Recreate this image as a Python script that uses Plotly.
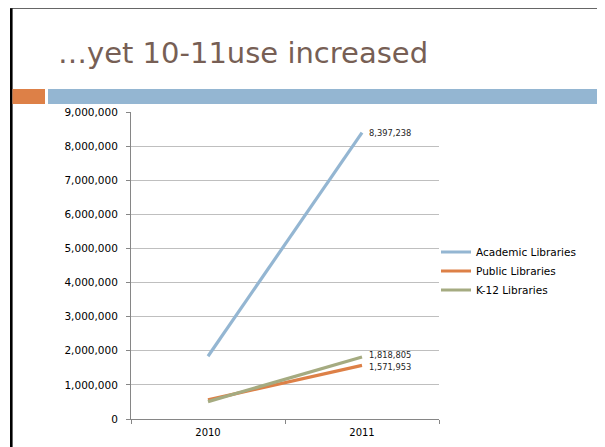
import plotly.graph_objects as go

years = ["2010", "2011"]
academic = [1840000, 8397238]
public = [560000, 1571953]
k12 = [510000, 1818805]
series_names = ["Academic Libraries", "Public Libraries", "K-12 Libraries"]
y_ticks = [0, 1000000, 2000000, 3000000, 4000000, 5000000, 6000000, 7000000, 8000000, 9000000]
y_tick_labels = ["0", "1,000,000", "2,000,000", "3,000,000", "4,000,000", "5,000,000",
                 "6,000,000", "7,000,000", "8,000,000", "9,000,000"]
title_text = "…yet 10-11use increased"

colors = ["#94B6D2", "#DD8047", "#A5AB81"]
label_yshift = [0, -1.5, 1.5]
FONT = "DejaVu Sans"

W, H = 605, 447
OFF = 8  # page body margin
# target plot area in screenshot pixels
PX0, PX1, PY0, PY1 = 131, 439, 112, 419
L = PX0 - OFF
R = W - (PX1 - OFF)
T = PY0 - OFF
B = H - (PY1 - OFF)
PW, PH = W - L - R, H - T - B

def px(x):
    return (x - PX0) / PW

def py(y):
    return (PY1 - y) / PH

fig = go.Figure()
annotations = []
last_idx = len(years) - 1
for name, vals, col, ys in zip(series_names, [academic, public, k12], colors, label_yshift):
    fig.add_trace(go.Scatter(
        x=years, y=vals, name=name, mode="lines",
        line=dict(color=col, width=3.2),
    ))
    annotations.append(dict(
        x=last_idx, y=vals[-1], xref="x", yref="y", text=f"{vals[-1]:,}",
        xanchor="left", yanchor="middle", xshift=5, yshift=ys, showarrow=False,
        font=dict(family=FONT, size=8.3, color="#262626"),
    ))

annotations.append(dict(text=title_text, xref="paper", yref="paper", x=px(56), y=py(53),
                        xanchor="left", yanchor="middle", showarrow=False,
                        font=dict(family=FONT, size=29, color="#775F55")))

shapes = [
    # slide border
    dict(type="line", xref="paper", yref="paper", x0=px(11.3), x1=px(11.3), y0=py(8), y1=py(470),
         line=dict(color="#000000", width=2.6)),
    dict(type="line", xref="paper", yref="paper", x0=px(599), x1=px(599), y0=py(8), y1=py(470),
         line=dict(color="#000000", width=2.6)),
    dict(type="line", xref="paper", yref="paper", x0=px(10), x1=px(600), y0=py(8), y1=py(8),
         line=dict(color="#333333", width=1.5)),
    # header bars
    dict(type="rect", xref="paper", yref="paper", x0=px(12.5), x1=px(45), y0=py(104), y1=py(89),
         fillcolor="#DD8047", line=dict(width=0)),
    dict(type="rect", xref="paper", yref="paper", x0=px(48), x1=px(598), y0=py(104), y1=py(89),
         fillcolor="#94B6D2", line=dict(width=0)),
]

fig.update_layout(
    width=W, height=H,
    margin=dict(l=L, r=R, t=T, b=B, pad=0),
    paper_bgcolor="white", plot_bgcolor="white",
    showlegend=True,
    legend=dict(x=px(436), y=py(237.5), xanchor="left", yanchor="top",
                font=dict(family=FONT, size=10.5, color="#000000"),
                itemwidth=30, bgcolor="rgba(0,0,0,0)", tracegroupgap=0),
    shapes=shapes,
    annotations=annotations,
    font=dict(family=FONT, color="#000000"),
)
fig.update_xaxes(
    type="category", range=[-0.5, 1.5], tickson="boundaries",
    ticks="outside", ticklen=4, tickcolor="#868686",
    showline=True, linecolor="#868686", linewidth=1, showgrid=False,
    tickfont=dict(family=FONT, size=10, color="#000000"), ticklabelstandoff=4,
)
fig.update_yaxes(
    range=[0, 9000000], tickvals=y_ticks, ticktext=y_tick_labels,
    ticks="outside", ticklen=4, tickcolor="#868686",
    showline=True, linecolor="#868686", linewidth=1,
    showgrid=True, gridcolor="#BFBFBF", gridwidth=1, zeroline=False,
    tickfont=dict(family=FONT, size=10.5, color="#000000"), ticklabelstandoff=6,
)
fig.write_html("out.html")
